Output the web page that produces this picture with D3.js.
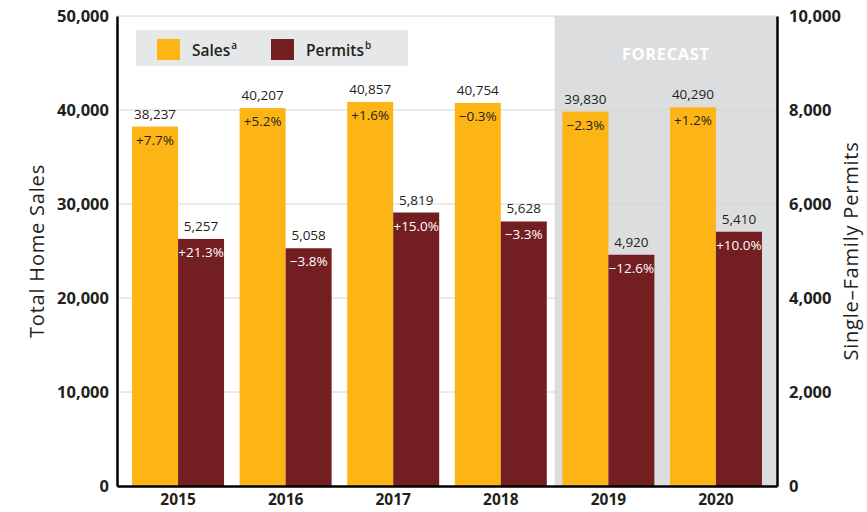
<!DOCTYPE html>
<meta charset="utf-8">
<html>
<head>
<style>
  body { margin: 0; background: #fff; }
  text { font-family: "Open Sans", sans-serif; }
</style>
<script src="https://d3js.org/d3.v7.min.js"></script>
</head>
<body>
<svg width="867" height="512"></svg>
<script>
var years = ["2015", "2016", "2017", "2018", "2019", "2020"];
var sales = [38237, 40207, 40857, 40754, 39830, 40290];
var permits = [5257, 5058, 5819, 5628, 4920, 5410];
var salesChg = ["+7.7%", "+5.2%", "+1.6%", "\u22120.3%", "\u22122.3%", "+1.2%"];
var permitsChg = ["+21.3%", "\u22123.8%", "+15.0%", "\u22123.3%", "\u221212.6%", "+10.0%"];
var forecastYears = ["2019", "2020"];
var leftTicks = [0, 10000, 20000, 30000, 40000, 50000];
var rightTicks = [0, 2000, 4000, 6000, 8000, 10000];

var svg = d3.select("svg");
var pLeft = 117, pRight = 777, pTop = 16, pBottom = 486;
var salesColor = "#FDB415", permColor = "#731E21";

var x = d3.scaleBand().domain(years).range([pLeft, pRight])
    .paddingInner(0.145).paddingOuter(0.14);
var xs = d3.scaleBand().domain(["s", "p"]).range([0, x.bandwidth()]);
var yL = d3.scaleLinear().domain([0, 50000]).range([pBottom, pTop]);
var yR = d3.scaleLinear().domain([0, 10000]).range([pBottom, pTop]);

// forecast shading
var fx0 = x(forecastYears[0]) - x.step() * x.paddingInner() / 2;
svg.append("rect")
  .attr("x", fx0).attr("y", pTop)
  .attr("width", pRight - fx0).attr("height", pBottom - pTop)
  .attr("fill", "#DCDDDF");

// gridlines
svg.append("g").selectAll("line")
  .data(leftTicks.slice(1))
  .enter().append("line")
  .attr("x1", pLeft).attr("x2", pRight)
  .attr("y1", function(d) { return yL(d); })
  .attr("y2", function(d) { return yL(d); })
  .attr("stroke", "#d6d6d6").attr("stroke-width", 1);

svg.append("text")
  .attr("x", (fx0 + pRight) / 2).attr("y", 60)
  .attr("text-anchor", "middle")
  .attr("fill", "#fff").attr("font-weight", 700).attr("font-size", "16.5px")
  .attr("letter-spacing", "0.6px")
  .text("FORECAST");

// legend
svg.append("rect").attr("x", 136).attr("y", 30).attr("width", 272).attr("height", 36).attr("fill", "#E6E7E8");
var legend = [["Sales", "a", salesColor, 157], ["Permits", "b", permColor, 271]];
legend.forEach(function(l) {
  svg.append("rect").attr("x", l[3]).attr("y", 39).attr("width", 23).attr("height", 21).attr("fill", l[2]);
  var t = svg.append("text").attr("x", l[3] + 35).attr("y", 56)
    .attr("font-size", "15.5px").attr("font-weight", 600).attr("fill", "#231f20");
  t.append("tspan").text(l[0]);
  t.append("tspan").attr("dx", 1).attr("dy", -7).attr("font-size", "10px").text(l[1]);
});

var g = svg.append("g").selectAll("g")
  .data(years).enter().append("g")
  .attr("transform", function(d) { return "translate(" + x(d) + ",0)"; });

g.append("rect")
  .attr("x", xs("s")).attr("width", xs.bandwidth())
  .attr("y", function(d, i) { return yL(sales[i]); })
  .attr("height", function(d, i) { return pBottom - yL(sales[i]); })
  .attr("fill", salesColor);

g.append("rect")
  .attr("x", xs("p")).attr("width", xs.bandwidth())
  .attr("y", function(d, i) { return yR(permits[i]); })
  .attr("height", function(d, i) { return pBottom - yR(permits[i]); })
  .attr("fill", permColor);

g.append("text")
  .attr("x", xs("s") + xs.bandwidth() / 2)
  .attr("y", function(d, i) { return yL(sales[i]) - 8; })
  .attr("text-anchor", "middle").attr("font-size", "13.5px").attr("fill", "#231f20")
  .text(function(d, i) { return d3.format(",")(sales[i]); });

g.append("text")
  .attr("x", xs("s") + xs.bandwidth() / 2)
  .attr("y", function(d, i) { return yL(sales[i]) + 18; })
  .attr("text-anchor", "middle").attr("font-size", "13.5px").attr("fill", "#231f20")
  .text(function(d, i) { return salesChg[i]; });

g.append("text")
  .attr("x", xs("p") + xs.bandwidth() / 2)
  .attr("y", function(d, i) { return yR(permits[i]) - 8; })
  .attr("text-anchor", "middle").attr("font-size", "13.5px").attr("fill", "#231f20")
  .text(function(d, i) { return d3.format(",")(permits[i]); });

g.append("text")
  .attr("x", xs("p") + xs.bandwidth() / 2)
  .attr("y", function(d, i) { return yR(permits[i]) + 18; })
  .attr("text-anchor", "middle").attr("font-size", "13.5px").attr("fill", "#fff")
  .text(function(d, i) { return permitsChg[i]; });

// axes
var axL = svg.append("g").attr("transform", "translate(" + pLeft + ",0)")
  .call(d3.axisLeft(yL).tickValues(leftTicks).tickFormat(d3.format(",")).tickSize(0).tickPadding(8));
var axR = svg.append("g").attr("transform", "translate(" + pRight + ",0)")
  .call(d3.axisRight(yR).tickValues(rightTicks).tickFormat(d3.format(",")).tickSize(0).tickPadding(12));
var axB = svg.append("g").attr("transform", "translate(0," + pBottom + ")")
  .call(d3.axisBottom(x).tickSize(0).tickPadding(8));

[axL, axR, axB].forEach(function(a) {
  a.select(".domain").attr("stroke", "#000").attr("stroke-width", 2.5);
  a.selectAll("text").attr("font-size", "16.5px").attr("font-weight", 700)
    .attr("fill", "#231f20").attr("font-family", "'Open Sans', sans-serif");
});
axB.selectAll("text").attr("font-size", "15.5px");

svg.append("text")
  .attr("transform", "translate(44," + (pTop + pBottom) / 2 + ") rotate(-90)")
  .attr("text-anchor", "middle").attr("font-size", "20px").attr("letter-spacing", "0.8px").attr("fill", "#231f20")
  .text("Total Home Sales");

svg.append("text")
  .attr("transform", "translate(858," + (pTop + pBottom) / 2 + ") rotate(-90)")
  .attr("text-anchor", "middle").attr("font-size", "20px").attr("letter-spacing", "0.8px").attr("fill", "#231f20")
  .text("Single\u2013Family Permits");
</script>
</body>
</html>
